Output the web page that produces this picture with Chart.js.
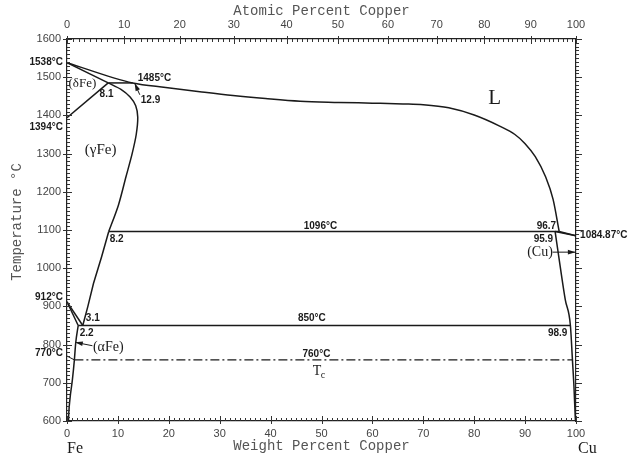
<!DOCTYPE html>
<html>
<head>
<meta charset="utf-8">
<script src="https://cdn.jsdelivr.net/npm/chart.js@4.4.1/dist/chart.umd.min.js"></script>
<style>
  html, body { margin: 0; padding: 0; background: #fff; }
  #wrap { width: 633px; height: 456px; position: relative; }
</style>
</head>
<body>
<div id="wrap"><canvas id="diagrama"></canvas></div>
<script>
// --- values (weight % Cu, temperature in °C) ---
const liquidusWt = [0, 12.9, 19.4, 26.1, 32.6, 39, 45.8, 53.4, 60, 66, 70, 75, 80, 85, 88, 90, 92, 94, 95.5, 96.7];
const liquidusT  = [1538, 1485, 1473, 1462, 1452, 1444, 1437, 1434, 1432, 1430, 1428, 1420, 1401, 1372, 1350, 1326, 1292, 1240, 1180, 1096];

const deltaSolidusWt = [0, 8.1];
const deltaSolidusT  = [1538, 1485];
const deltaSolvusWt  = [0, 8.1];
const deltaSolvusT   = [1394, 1485];

// (γFe) boundary above and below the 1096 °C peritectic
const gammaUpperWt = [8.1, 10.6, 12.4, 13.5, 13.9, 13.6, 12.8, 11.6, 10.1, 8.2];
const gammaUpperT  = [1485, 1468, 1448, 1425, 1395, 1350, 1300, 1240, 1165, 1096];
const gammaLowerWt = [8.2, 6.8, 5.2, 4.1, 3.1];
const gammaLowerT  = [1096, 1030, 960, 900, 850];

const gammaAlphaWt = [0, 3.1];
const gammaAlphaT  = [912, 850];
const alphaGammaWt = [0, 2.2];
const alphaGammaT  = [912, 850];

const alphaSolvusWt = [0.3, 0.35, 0.6, 1.05, 1.45, 1.7, 2.2];
const alphaSolvusT  = [600, 620, 660, 707, 760, 803, 850];

const cuLiquidusWt = [96.7, 100];
const cuLiquidusT  = [1096, 1084.87];
const cuSolidusWt  = [95.9, 100];
const cuSolidusT   = [1096, 1084.87];
const cuSolvusWt   = [95.9, 96.9, 97.9, 98.9, 99.3, 99.6, 99.85, 99.9];
const cuSolvusT    = [1096, 1004, 917, 850, 760, 690, 611, 600];

const peritecticFeWt = [8.1, 12.9];
const peritecticFeT  = [1485, 1485];
const peritecticCuWt = [8.2, 96.7];
const peritecticCuT  = [1096, 1096];
const eutectoidWt    = [2.2, 98.9];
const eutectoidT     = [850, 850];
const curieWt        = [1.45, 99.3];
const curieT         = [760, 760];
const curieLeadWt    = [0, 1.45];
const curieLeadT     = [770, 760];

// tick labels
const weightTicks = [0, 10, 20, 30, 40, 50, 60, 70, 80, 90, 100];
const atomicTicks = [0, 10, 20, 30, 40, 50, 60, 70, 80, 90, 100];
const tempTicks   = [600, 700, 800, 900, 1000, 1100, 1200, 1300, 1400, 1500, 1600];

// atomic % Cu -> weight % Cu (for the top axis)
function atToWt(a) {
    const cu = 63.546, fe = 55.845;
    return 100 * a * cu / (a * cu + (100 - a) * fe);
}

function pts(xs, ys) {
    return xs.map((x, i) => ({ x: x, y: ys[i] }));
}

function linha(xs, ys, extra) {
    return Object.assign({
        data: pts(xs, ys),
        showLine: true,
        borderColor: '#1a1a1a',
        borderWidth: 1.5,
        pointRadius: 0,
        tension: 0,
        fill: false
    }, extra || {});
}

// text labels in data coordinates
const rotulos = [
    { t: '1538°C', x: -0.8, y: 1538, align: 'right', font: 'bold 10px "Liberation Sans"' },
    { t: '1394°C', x: -0.8, y: 1370, align: 'right', font: 'bold 10px "Liberation Sans"' },
    { t: '912°C', x: -0.8, y: 925, align: 'right', font: 'bold 10px "Liberation Sans"' },
    { t: '770°C', x: -0.8, y: 778, align: 'right', font: 'bold 10px "Liberation Sans"' },
    { t: '1084.87°C', x: 100.8, y: 1087, align: 'left', font: 'bold 10px "Liberation Sans"' },
    { t: '1485°C', x: 13.9, y: 1498, align: 'left', font: 'bold 10px "Liberation Sans"' },
    { t: '(δFe)', x: 0.3, y: 1482, align: 'left', font: '13px "Liberation Serif"' },
    { t: '8.1', x: 6.4, y: 1456, align: 'left', font: 'bold 10px "Liberation Sans"' },
    { t: '12.9', x: 14.5, y: 1440, align: 'left', font: 'bold 10px "Liberation Sans"' },
    { t: 'L', x: 84, y: 1445, align: 'center', font: '21px "Liberation Serif"' },
    { t: '(γFe)', x: 3.5, y: 1310, align: 'left', font: '15px "Liberation Serif"' },
    { t: '8.2', x: 8.4, y: 1076, align: 'left', font: 'bold 10px "Liberation Sans"' },
    { t: '1096°C', x: 49.8, y: 1110, align: 'center', font: 'bold 10px "Liberation Sans"' },
    { t: '96.7', x: 96.1, y: 1110, align: 'right', font: 'bold 10px "Liberation Sans"' },
    { t: '95.9', x: 95.5, y: 1076, align: 'right', font: 'bold 10px "Liberation Sans"' },
    { t: '(Cu)', x: 90.4, y: 1042, align: 'left', font: '14px "Liberation Serif"' },
    { t: '3.1', x: 3.7, y: 870, align: 'left', font: 'bold 10px "Liberation Sans"' },
    { t: '2.2', x: 2.5, y: 830, align: 'left', font: 'bold 10px "Liberation Sans"' },
    { t: '850°C', x: 48.1, y: 870, align: 'center', font: 'bold 10px "Liberation Sans"' },
    { t: '98.9', x: 98.3, y: 830, align: 'right', font: 'bold 10px "Liberation Sans"' },
    { t: '(αFe)', x: 5.1, y: 794, align: 'left', font: '14px "Liberation Serif"' },
    { t: '760°C', x: 49, y: 775, align: 'center', font: 'bold 10px "Liberation Sans"' }
];

const setas = [
    { x1: 14.3, y1: 1454, x2: 13.3, y2: 1484 },
    { x1: 95.4, y1: 1042, x2: 99.9, y2: 1042 },
    { x1: 5.0, y1: 797, x2: 1.6, y2: 806 }
];

const decoracao = {
    id: 'decoracao',
    afterDraw(chart) {
        const ctx = chart.ctx;
        const a = chart.chartArea;
        const x = chart.scales.x, y = chart.scales.y;

        ctx.save();
        // tick marks
        ctx.strokeStyle = '#333';
        ctx.lineWidth = 1;
        ctx.beginPath();
        for (let v = 0; v <= 100; v++) {
            const px = Math.round(x.getPixelForValue(v)) + 0.5;
            const big = v % 10 === 0;
            ctx.moveTo(px, a.bottom + (big ? 3 : 0));
            ctx.lineTo(px, a.bottom - (big ? 5 : 3));
        }
        for (let at = 0; at <= 100; at++) {
            const px = Math.round(x.getPixelForValue(atToWt(at))) + 0.5;
            const big = at % 10 === 0;
            ctx.moveTo(px, a.top - (big ? 3 : 0));
            ctx.lineTo(px, a.top + (big ? 5 : 3));
        }
        for (let t = 600; t <= 1600; t += 10) {
            const py = Math.round(y.getPixelForValue(t)) + 0.5;
            const big = t % 100 === 0;
            ctx.moveTo(a.left - (big ? 4 : 0), py);
            ctx.lineTo(a.left + (big ? 5 : 3), py);
            ctx.moveTo(a.right, py);
            ctx.lineTo(a.right + (big ? 6 : 3), py);
        }
        ctx.stroke();

        // labels
        ctx.fillStyle = '#1a1a1a';
        ctx.textBaseline = 'middle';
        rotulos.forEach(r => {
            ctx.font = r.font;
            ctx.textAlign = r.align;
            ctx.fillText(r.t, x.getPixelForValue(r.x), y.getPixelForValue(r.y));
        });

        // T sub c
        const tx = x.getPixelForValue(48.3), ty = y.getPixelForValue(731);
        ctx.font = '14px "Liberation Serif"';
        ctx.textAlign = 'left';
        ctx.fillText('T', tx, ty);
        ctx.font = '10px "Liberation Serif"';
        ctx.fillText('c', tx + 8, ty + 4);

        // arrows
        ctx.strokeStyle = '#1a1a1a';
        ctx.lineWidth = 1;
        setas.forEach(s => {
            const x1 = x.getPixelForValue(s.x1), y1 = y.getPixelForValue(s.y1);
            const x2 = x.getPixelForValue(s.x2), y2 = y.getPixelForValue(s.y2);
            const ang = Math.atan2(y2 - y1, x2 - x1);
            ctx.beginPath();
            ctx.moveTo(x1, y1);
            ctx.lineTo(x2, y2);
            ctx.stroke();
            ctx.beginPath();
            ctx.moveTo(x2, y2);
            ctx.lineTo(x2 - 8 * Math.cos(ang - 0.3), y2 - 8 * Math.sin(ang - 0.3));
            ctx.lineTo(x2 - 8 * Math.cos(ang + 0.3), y2 - 8 * Math.sin(ang + 0.3));
            ctx.closePath();
            ctx.fill();
        });

        // Fe / Cu under the axis
        ctx.font = '16px "Liberation Serif"';
        ctx.textAlign = 'left';
        ctx.fillText('Fe', x.getPixelForValue(0), 449);
        ctx.fillText('Cu', x.getPixelForValue(100) + 2, 449);

        // axis titles
        ctx.fillStyle = '#555';
        ctx.font = '14px "Liberation Mono"';
        ctx.textAlign = 'center';
        const cx = (a.left + a.right) / 2;
        ctx.fillText('Atomic Percent Copper', cx, 11);
        ctx.fillText('Weight Percent Copper', cx, 446);
        ctx.translate(17, 222);
        ctx.rotate(-Math.PI / 2);
        ctx.fillText('Temperature °C', 0, 0);
        ctx.restore();
    }
};

const eixoBase = {
    type: 'linear',
    min: 0,
    max: 100,
    grid: { display: false, drawTicks: false },
    border: { display: true, color: '#222', width: 1.2 },
    ticks: {
        color: '#444',
        font: { family: 'Liberation Sans', size: 11 },
        maxRotation: 0,
        autoSkip: false,
        callback: v => String(v)
    }
};

new Chart(document.getElementById('diagrama'), {
    type: 'scatter',
    data: {
        datasets: [
            linha(liquidusWt, liquidusT, { cubicInterpolationMode: 'monotone' }),
            linha(deltaSolidusWt, deltaSolidusT),
            linha(deltaSolvusWt, deltaSolvusT),
            linha(gammaUpperWt, gammaUpperT, { tension: 0.3 }),
            linha(gammaLowerWt, gammaLowerT),
            linha(gammaAlphaWt, gammaAlphaT),
            linha(alphaGammaWt, alphaGammaT),
            linha(alphaSolvusWt, alphaSolvusT, { cubicInterpolationMode: 'monotone' }),
            linha(cuLiquidusWt, cuLiquidusT),
            linha(cuSolidusWt, cuSolidusT),
            linha(cuSolvusWt, cuSolvusT, { cubicInterpolationMode: 'monotone' }),
            linha(peritecticFeWt, peritecticFeT),
            linha(peritecticCuWt, peritecticCuT),
            linha(eutectoidWt, eutectoidT),
            linha(curieWt, curieT, { borderDash: [9, 3, 2, 3], borderWidth: 1.2 }),
            linha(curieLeadWt, curieLeadT, { borderWidth: 1 })
        ]
    },
    options: {
        responsive: true,
        maintainAspectRatio: false,
        animation: false,
        layout: { padding: 0 },
        plugins: {
            legend: { display: false },
            tooltip: { enabled: false }
        },
        scales: {
            x: Object.assign({}, eixoBase, {
                position: 'bottom',
                afterBuildTicks: s => { s.ticks = weightTicks.map(v => ({ value: v })); },
                afterFit: s => { s.height = 35; },
                ticks: Object.assign({}, eixoBase.ticks, { padding: 6 })
            }),
            xTop: Object.assign({}, eixoBase, {
                position: 'top',
                afterBuildTicks: s => { s.ticks = atomicTicks.map(v => ({ value: atToWt(v) })); },
                afterFit: s => { s.height = 39; },
                ticks: Object.assign({}, eixoBase.ticks, { padding: 7, callback: (v, i) => String(atomicTicks[i]) })
            }),
            y: Object.assign({}, eixoBase, {
                position: 'left',
                min: 600,
                max: 1600,
                afterBuildTicks: s => { s.ticks = tempTicks.map(v => ({ value: v })); },
                afterFit: s => { s.width = 67; },
                ticks: Object.assign({}, eixoBase.ticks, { padding: 6 })
            }),
            yRight: Object.assign({}, eixoBase, {
                position: 'right',
                min: 600,
                max: 1600,
                ticks: { display: false },
                afterFit: s => { s.width = 57; }
            })
        }
    },
    plugins: [decoracao]
});
</script>
</body>
</html>
